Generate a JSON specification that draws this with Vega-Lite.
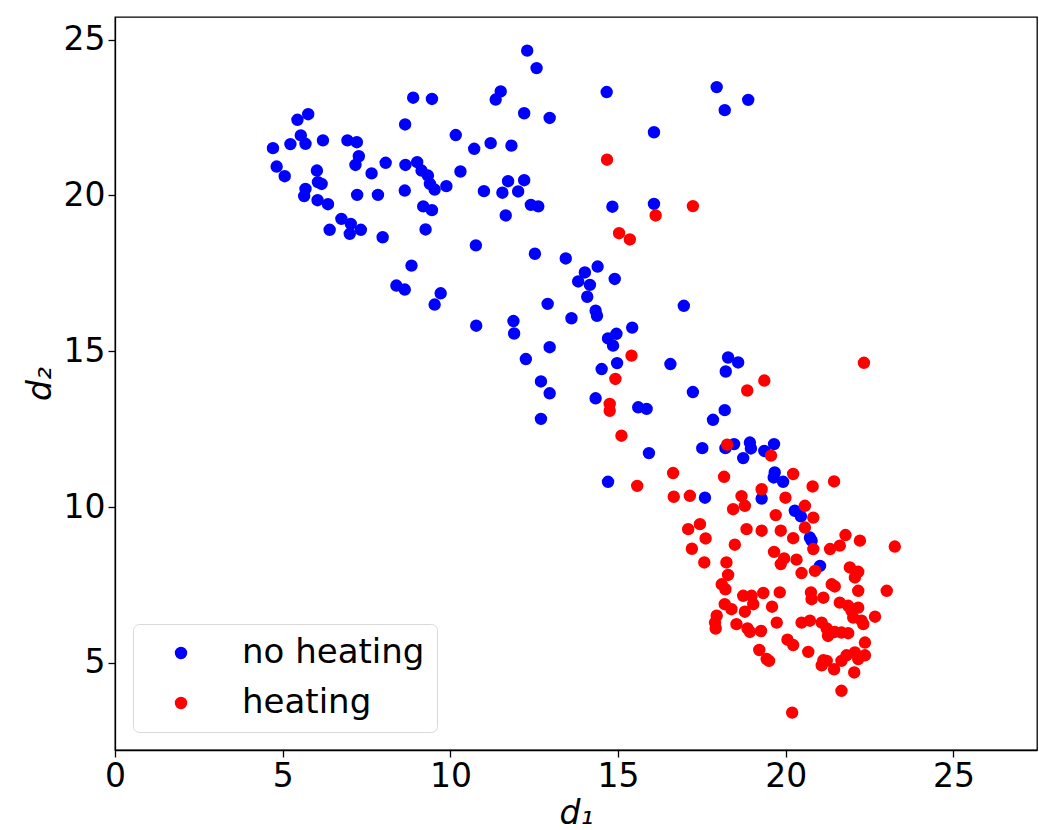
{
  "$schema": "https://vega.github.io/schema/vega-lite/v6.json",
  "width": 922,
  "height": 733,
  "autosize": {"type": "none"},
  "padding": {"left": 115, "top": 17, "right": 2, "bottom": 80},
  "background": "white",
  "config": {
    "font": "DejaVu Sans",
    "view": {"stroke": "#000000", "strokeWidth": 1.3},
    "axis": {
      "grid": false,
      "domainColor": "#000000",
      "domainWidth": 1.3,
      "tickColor": "#000000",
      "tickWidth": 1.3,
      "tickSize": 7,
      "labelFont": "DejaVu Sans",
      "labelFontSize": 33,
      "labelColor": "#000000",
      "labelPadding": 3,
      "labelFlush": false,
      "labelOverlap": false,
      "titleFont": "DejaVu Sans",
      "titleFontSize": 33,
      "titleFontStyle": "italic",
      "titleFontWeight": "normal",
      "titleColor": "#000000"
    },
    "legend": {
      "orient": "bottom-left",
      "offset": 18,
      "fillColor": "#ffffff",
      "strokeColor": "#d9d9d9",
      "cornerRadius": 6,
      "padding": 12,
      "labelFont": "DejaVu Sans",
      "labelFontSize": 34,
      "labelColor": "#000000",
      "labelLimit": 0,
      "symbolSize": 154,
      "symbolType": "circle",
      "symbolStrokeWidth": 0,
      "rowPadding": 16,
      "symbolOffset": 19,
      "labelOffset": 44
    }
  },
  "data": {
    "values": [
      {"d1": 8.89, "d2": 23.14, "c": "no heating"},
      {"d1": 9.45, "d2": 23.10, "c": "no heating"},
      {"d1": 8.65, "d2": 22.28, "c": "no heating"},
      {"d1": 5.76, "d2": 22.61, "c": "no heating"},
      {"d1": 5.44, "d2": 22.43, "c": "no heating"},
      {"d1": 10.16, "d2": 21.94, "c": "no heating"},
      {"d1": 10.71, "d2": 21.50, "c": "no heating"},
      {"d1": 4.71, "d2": 21.52, "c": "no heating"},
      {"d1": 5.23, "d2": 21.65, "c": "no heating"},
      {"d1": 5.54, "d2": 21.93, "c": "no heating"},
      {"d1": 5.68, "d2": 21.66, "c": "no heating"},
      {"d1": 6.20, "d2": 21.77, "c": "no heating"},
      {"d1": 6.93, "d2": 21.77, "c": "no heating"},
      {"d1": 7.21, "d2": 21.71, "c": "no heating"},
      {"d1": 7.27, "d2": 21.26, "c": "no heating"},
      {"d1": 7.17, "d2": 20.98, "c": "no heating"},
      {"d1": 8.07, "d2": 21.05, "c": "no heating"},
      {"d1": 7.65, "d2": 20.71, "c": "no heating"},
      {"d1": 8.66, "d2": 20.98, "c": "no heating"},
      {"d1": 9.01, "d2": 21.07, "c": "no heating"},
      {"d1": 9.14, "d2": 20.80, "c": "no heating"},
      {"d1": 9.33, "d2": 20.64, "c": "no heating"},
      {"d1": 9.39, "d2": 20.37, "c": "no heating"},
      {"d1": 9.53, "d2": 20.19, "c": "no heating"},
      {"d1": 9.88, "d2": 20.30, "c": "no heating"},
      {"d1": 10.30, "d2": 20.77, "c": "no heating"},
      {"d1": 4.82, "d2": 20.93, "c": "no heating"},
      {"d1": 5.06, "d2": 20.62, "c": "no heating"},
      {"d1": 6.02, "d2": 20.80, "c": "no heating"},
      {"d1": 6.05, "d2": 20.43, "c": "no heating"},
      {"d1": 6.16, "d2": 20.37, "c": "no heating"},
      {"d1": 5.68, "d2": 20.21, "c": "no heating"},
      {"d1": 5.64, "d2": 19.98, "c": "no heating"},
      {"d1": 6.04, "d2": 19.85, "c": "no heating"},
      {"d1": 6.35, "d2": 19.72, "c": "no heating"},
      {"d1": 7.22, "d2": 20.02, "c": "no heating"},
      {"d1": 7.84, "d2": 20.02, "c": "no heating"},
      {"d1": 8.64, "d2": 20.16, "c": "no heating"},
      {"d1": 9.19, "d2": 19.65, "c": "no heating"},
      {"d1": 9.45, "d2": 19.53, "c": "no heating"},
      {"d1": 6.75, "d2": 19.25, "c": "no heating"},
      {"d1": 7.03, "d2": 19.09, "c": "no heating"},
      {"d1": 6.40, "d2": 18.90, "c": "no heating"},
      {"d1": 7.00, "d2": 18.77, "c": "no heating"},
      {"d1": 7.33, "d2": 18.90, "c": "no heating"},
      {"d1": 7.98, "d2": 18.66, "c": "no heating"},
      {"d1": 9.26, "d2": 18.91, "c": "no heating"},
      {"d1": 8.84, "d2": 17.75, "c": "no heating"},
      {"d1": 12.29, "d2": 24.65, "c": "no heating"},
      {"d1": 12.57, "d2": 24.09, "c": "no heating"},
      {"d1": 11.50, "d2": 23.34, "c": "no heating"},
      {"d1": 11.35, "d2": 23.08, "c": "no heating"},
      {"d1": 14.66, "d2": 23.32, "c": "no heating"},
      {"d1": 12.20, "d2": 22.64, "c": "no heating"},
      {"d1": 12.96, "d2": 22.49, "c": "no heating"},
      {"d1": 16.07, "d2": 22.03, "c": "no heating"},
      {"d1": 11.20, "d2": 21.68, "c": "no heating"},
      {"d1": 11.82, "d2": 21.60, "c": "no heating"},
      {"d1": 11.72, "d2": 20.46, "c": "no heating"},
      {"d1": 12.20, "d2": 20.49, "c": "no heating"},
      {"d1": 11.00, "d2": 20.14, "c": "no heating"},
      {"d1": 11.55, "d2": 20.09, "c": "no heating"},
      {"d1": 12.02, "d2": 20.13, "c": "no heating"},
      {"d1": 12.40, "d2": 19.70, "c": "no heating"},
      {"d1": 12.62, "d2": 19.65, "c": "no heating"},
      {"d1": 11.65, "d2": 19.36, "c": "no heating"},
      {"d1": 14.83, "d2": 19.64, "c": "no heating"},
      {"d1": 16.07, "d2": 19.73, "c": "no heating"},
      {"d1": 10.76, "d2": 18.40, "c": "no heating"},
      {"d1": 12.52, "d2": 18.13, "c": "no heating"},
      {"d1": 13.44, "d2": 17.98, "c": "no heating"},
      {"d1": 14.39, "d2": 17.72, "c": "no heating"},
      {"d1": 17.94, "d2": 23.48, "c": "no heating"},
      {"d1": 18.88, "d2": 23.07, "c": "no heating"},
      {"d1": 18.18, "d2": 22.74, "c": "no heating"},
      {"d1": 8.39, "d2": 17.11, "c": "no heating"},
      {"d1": 8.64, "d2": 16.98, "c": "no heating"},
      {"d1": 9.71, "d2": 16.86, "c": "no heating"},
      {"d1": 9.53, "d2": 16.50, "c": "no heating"},
      {"d1": 10.77, "d2": 15.82, "c": "no heating"},
      {"d1": 14.01, "d2": 17.53, "c": "no heating"},
      {"d1": 13.81, "d2": 17.24, "c": "no heating"},
      {"d1": 14.16, "d2": 17.13, "c": "no heating"},
      {"d1": 14.90, "d2": 17.32, "c": "no heating"},
      {"d1": 14.08, "d2": 16.75, "c": "no heating"},
      {"d1": 12.90, "d2": 16.52, "c": "no heating"},
      {"d1": 13.61, "d2": 16.06, "c": "no heating"},
      {"d1": 14.33, "d2": 16.30, "c": "no heating"},
      {"d1": 14.37, "d2": 16.14, "c": "no heating"},
      {"d1": 16.96, "d2": 16.46, "c": "no heating"},
      {"d1": 11.88, "d2": 15.97, "c": "no heating"},
      {"d1": 11.90, "d2": 15.57, "c": "no heating"},
      {"d1": 14.70, "d2": 15.41, "c": "no heating"},
      {"d1": 14.95, "d2": 15.56, "c": "no heating"},
      {"d1": 14.85, "d2": 15.18, "c": "no heating"},
      {"d1": 15.42, "d2": 15.76, "c": "no heating"},
      {"d1": 12.96, "d2": 15.13, "c": "no heating"},
      {"d1": 12.25, "d2": 14.75, "c": "no heating"},
      {"d1": 14.97, "d2": 14.62, "c": "no heating"},
      {"d1": 14.51, "d2": 14.43, "c": "no heating"},
      {"d1": 16.56, "d2": 14.59, "c": "no heating"},
      {"d1": 12.70, "d2": 14.03, "c": "no heating"},
      {"d1": 12.96, "d2": 13.65, "c": "no heating"},
      {"d1": 17.23, "d2": 13.69, "c": "no heating"},
      {"d1": 14.33, "d2": 13.49, "c": "no heating"},
      {"d1": 15.60, "d2": 13.20, "c": "no heating"},
      {"d1": 15.85, "d2": 13.15, "c": "no heating"},
      {"d1": 12.70, "d2": 12.83, "c": "no heating"},
      {"d1": 15.92, "d2": 11.73, "c": "no heating"},
      {"d1": 14.70, "d2": 10.81, "c": "no heating"},
      {"d1": 18.28, "d2": 14.80, "c": "no heating"},
      {"d1": 18.58, "d2": 14.64, "c": "no heating"},
      {"d1": 18.21, "d2": 14.35, "c": "no heating"},
      {"d1": 18.18, "d2": 13.11, "c": "no heating"},
      {"d1": 17.83, "d2": 12.80, "c": "no heating"},
      {"d1": 17.51, "d2": 11.89, "c": "no heating"},
      {"d1": 18.20, "d2": 11.89, "c": "no heating"},
      {"d1": 18.46, "d2": 12.02, "c": "no heating"},
      {"d1": 18.93, "d2": 12.07, "c": "no heating"},
      {"d1": 18.96, "d2": 11.88, "c": "no heating"},
      {"d1": 18.73, "d2": 11.57, "c": "no heating"},
      {"d1": 19.65, "d2": 12.02, "c": "no heating"},
      {"d1": 19.36, "d2": 11.80, "c": "no heating"},
      {"d1": 19.67, "d2": 11.11, "c": "no heating"},
      {"d1": 19.64, "d2": 10.95, "c": "no heating"},
      {"d1": 19.92, "d2": 10.81, "c": "no heating"},
      {"d1": 17.59, "d2": 10.30, "c": "no heating"},
      {"d1": 19.28, "d2": 10.27, "c": "no heating"},
      {"d1": 20.27, "d2": 9.88, "c": "no heating"},
      {"d1": 20.45, "d2": 9.70, "c": "no heating"},
      {"d1": 20.72, "d2": 9.02, "c": "no heating"},
      {"d1": 20.77, "d2": 8.92, "c": "no heating"},
      {"d1": 21.02, "d2": 8.11, "c": "no heating"},
      {"d1": 14.67, "d2": 21.15, "c": "heating"},
      {"d1": 16.12, "d2": 19.36, "c": "heating"},
      {"d1": 17.23, "d2": 19.66, "c": "heating"},
      {"d1": 15.03, "d2": 18.79, "c": "heating"},
      {"d1": 15.35, "d2": 18.59, "c": "heating"},
      {"d1": 15.40, "d2": 14.86, "c": "heating"},
      {"d1": 14.92, "d2": 14.11, "c": "heating"},
      {"d1": 14.75, "d2": 13.31, "c": "heating"},
      {"d1": 14.75, "d2": 13.09, "c": "heating"},
      {"d1": 15.10, "d2": 12.29, "c": "heating"},
      {"d1": 16.64, "d2": 11.09, "c": "heating"},
      {"d1": 15.57, "d2": 10.68, "c": "heating"},
      {"d1": 16.66, "d2": 10.33, "c": "heating"},
      {"d1": 17.14, "d2": 10.36, "c": "heating"},
      {"d1": 22.33, "d2": 14.63, "c": "heating"},
      {"d1": 19.36, "d2": 14.06, "c": "heating"},
      {"d1": 18.85, "d2": 13.74, "c": "heating"},
      {"d1": 18.25, "d2": 12.00, "c": "heating"},
      {"d1": 19.56, "d2": 11.65, "c": "heating"},
      {"d1": 20.22, "d2": 11.06, "c": "heating"},
      {"d1": 18.16, "d2": 10.97, "c": "heating"},
      {"d1": 19.28, "d2": 10.57, "c": "heating"},
      {"d1": 20.80, "d2": 10.66, "c": "heating"},
      {"d1": 21.44, "d2": 10.82, "c": "heating"},
      {"d1": 18.68, "d2": 10.35, "c": "heating"},
      {"d1": 19.99, "d2": 10.30, "c": "heating"},
      {"d1": 17.09, "d2": 9.29, "c": "heating"},
      {"d1": 17.20, "d2": 8.66, "c": "heating"},
      {"d1": 18.43, "d2": 9.93, "c": "heating"},
      {"d1": 18.78, "d2": 10.04, "c": "heating"},
      {"d1": 20.57, "d2": 10.04, "c": "heating"},
      {"d1": 20.82, "d2": 9.66, "c": "heating"},
      {"d1": 20.57, "d2": 9.34, "c": "heating"},
      {"d1": 20.82, "d2": 8.65, "c": "heating"},
      {"d1": 20.87, "d2": 7.95, "c": "heating"},
      {"d1": 20.47, "d2": 7.88, "c": "heating"},
      {"d1": 17.44, "d2": 9.45, "c": "heating"},
      {"d1": 17.61, "d2": 8.99, "c": "heating"},
      {"d1": 17.57, "d2": 8.22, "c": "heating"},
      {"d1": 18.48, "d2": 8.79, "c": "heating"},
      {"d1": 18.83, "d2": 9.29, "c": "heating"},
      {"d1": 19.28, "d2": 9.24, "c": "heating"},
      {"d1": 19.70, "d2": 9.74, "c": "heating"},
      {"d1": 19.85, "d2": 9.24, "c": "heating"},
      {"d1": 20.22, "d2": 9.00, "c": "heating"},
      {"d1": 19.65, "d2": 8.56, "c": "heating"},
      {"d1": 19.95, "d2": 8.35, "c": "heating"},
      {"d1": 19.85, "d2": 8.17, "c": "heating"},
      {"d1": 20.32, "d2": 8.31, "c": "heating"},
      {"d1": 18.23, "d2": 8.22, "c": "heating"},
      {"d1": 18.28, "d2": 7.82, "c": "heating"},
      {"d1": 18.09, "d2": 7.52, "c": "heating"},
      {"d1": 18.20, "d2": 7.36, "c": "heating"},
      {"d1": 18.73, "d2": 7.15, "c": "heating"},
      {"d1": 18.98, "d2": 7.15, "c": "heating"},
      {"d1": 19.33, "d2": 7.24, "c": "heating"},
      {"d1": 19.82, "d2": 7.26, "c": "heating"},
      {"d1": 19.03, "d2": 6.88, "c": "heating"},
      {"d1": 18.78, "d2": 6.64, "c": "heating"},
      {"d1": 19.59, "d2": 6.80, "c": "heating"},
      {"d1": 18.18, "d2": 6.88, "c": "heating"},
      {"d1": 18.38, "d2": 6.72, "c": "heating"},
      {"d1": 17.94, "d2": 6.51, "c": "heating"},
      {"d1": 17.89, "d2": 6.29, "c": "heating"},
      {"d1": 17.91, "d2": 6.10, "c": "heating"},
      {"d1": 18.53, "d2": 6.24, "c": "heating"},
      {"d1": 18.86, "d2": 6.10, "c": "heating"},
      {"d1": 18.93, "d2": 5.99, "c": "heating"},
      {"d1": 19.26, "d2": 6.02, "c": "heating"},
      {"d1": 19.73, "d2": 6.29, "c": "heating"},
      {"d1": 20.05, "d2": 5.74, "c": "heating"},
      {"d1": 20.22, "d2": 5.57, "c": "heating"},
      {"d1": 19.21, "d2": 5.41, "c": "heating"},
      {"d1": 19.43, "d2": 5.12, "c": "heating"},
      {"d1": 19.50, "d2": 5.06, "c": "heating"},
      {"d1": 20.67, "d2": 5.35, "c": "heating"},
      {"d1": 20.47, "d2": 6.29, "c": "heating"},
      {"d1": 20.72, "d2": 6.35, "c": "heating"},
      {"d1": 20.75, "d2": 7.26, "c": "heating"},
      {"d1": 20.77, "d2": 7.04, "c": "heating"},
      {"d1": 21.12, "d2": 7.09, "c": "heating"},
      {"d1": 21.07, "d2": 6.29, "c": "heating"},
      {"d1": 21.22, "d2": 6.10, "c": "heating"},
      {"d1": 21.26, "d2": 5.86, "c": "heating"},
      {"d1": 21.46, "d2": 5.99, "c": "heating"},
      {"d1": 21.66, "d2": 5.97, "c": "heating"},
      {"d1": 21.86, "d2": 5.95, "c": "heating"},
      {"d1": 21.12, "d2": 5.08, "c": "heating"},
      {"d1": 21.07, "d2": 4.92, "c": "heating"},
      {"d1": 21.22, "d2": 5.06, "c": "heating"},
      {"d1": 21.44, "d2": 4.79, "c": "heating"},
      {"d1": 21.66, "d2": 5.06, "c": "heating"},
      {"d1": 21.81, "d2": 5.24, "c": "heating"},
      {"d1": 22.06, "d2": 5.33, "c": "heating"},
      {"d1": 22.36, "d2": 5.65, "c": "heating"},
      {"d1": 22.36, "d2": 5.24, "c": "heating"},
      {"d1": 22.16, "d2": 5.12, "c": "heating"},
      {"d1": 22.04, "d2": 4.69, "c": "heating"},
      {"d1": 21.66, "d2": 4.10, "c": "heating"},
      {"d1": 20.19, "d2": 3.40, "c": "heating"},
      {"d1": 21.37, "d2": 7.52, "c": "heating"},
      {"d1": 21.46, "d2": 7.45, "c": "heating"},
      {"d1": 21.61, "d2": 6.93, "c": "heating"},
      {"d1": 21.86, "d2": 6.83, "c": "heating"},
      {"d1": 21.96, "d2": 6.67, "c": "heating"},
      {"d1": 22.16, "d2": 6.77, "c": "heating"},
      {"d1": 22.01, "d2": 6.45, "c": "heating"},
      {"d1": 22.26, "d2": 6.35, "c": "heating"},
      {"d1": 22.31, "d2": 6.24, "c": "heating"},
      {"d1": 22.66, "d2": 6.48, "c": "heating"},
      {"d1": 22.16, "d2": 7.31, "c": "heating"},
      {"d1": 21.91, "d2": 8.06, "c": "heating"},
      {"d1": 22.16, "d2": 7.92, "c": "heating"},
      {"d1": 22.06, "d2": 7.74, "c": "heating"},
      {"d1": 23.01, "d2": 7.31, "c": "heating"},
      {"d1": 23.25, "d2": 8.73, "c": "heating"},
      {"d1": 21.78, "d2": 9.10, "c": "heating"},
      {"d1": 22.21, "d2": 8.92, "c": "heating"},
      {"d1": 21.61, "d2": 8.76, "c": "heating"},
      {"d1": 21.32, "d2": 8.65, "c": "heating"}
    ]
  },
  "mark": {"type": "point", "filled": true, "opacity": 1, "size": 154, "strokeWidth": 0},
  "encoding": {
    "x": {
      "field": "d1",
      "type": "quantitative",
      "scale": {"domain": [0, 27.49], "nice": false, "zero": false},
      "axis": {"title": "d₁", "values": [0, 5, 10, 15, 20, 25], "titlePadding": 4}
    },
    "y": {
      "field": "d2",
      "type": "quantitative",
      "scale": {"domain": [2.2, 25.73], "nice": false, "zero": false},
      "axis": {"title": "d₂", "values": [5, 10, 15, 20, 25], "titlePadding": 6}
    },
    "color": {
      "field": "c",
      "type": "nominal",
      "scale": {"domain": ["no heating", "heating"], "range": ["#0000ff", "#ff0000"]},
      "legend": {"title": null}
    }
  }
}
